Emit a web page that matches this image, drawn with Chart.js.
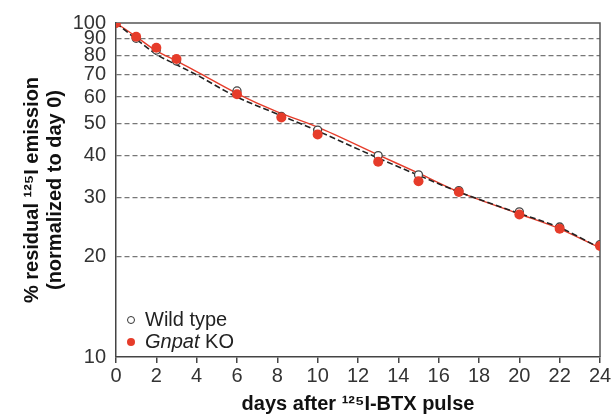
<!DOCTYPE html>
<html>
<head>
<meta charset="utf-8">
<script src="https://cdn.jsdelivr.net/npm/chart.js@4"></script>
<style>
  html, body { margin: 0; padding: 0; background: #fff; }
  #wrap { position: relative; width: 613px; height: 416px; }
  .leg { position: absolute; left: 127px; font: 20px "Liberation Sans", Arial, sans-serif; color: #222; white-space: nowrap; }
  .leg span.m { display: inline-block; width: 8px; height: 8px; border-radius: 50%; box-sizing: border-box; margin-right: 10px; vertical-align: 2px; }
</style>
</head>
<body>
<div id="wrap">
  <canvas id="chart" width="613" height="416"></canvas>
  <div class="leg" style="top:308px"><span class="m" style="border:1.5px solid #333;background:#fff"></span>Wild type</div>
  <div class="leg" style="top:330px"><span class="m" style="background:#e63c2a"></span><i>Gnpat</i> KO</div>
</div>
<script>
// measured points
const days = [0, 1, 2, 3, 6, 8.2, 10, 13, 15, 17, 20, 22, 24];
const wildType = [100, 90, 83, 77, 62.6, 52.5, 47.8, 40.1, 35.1, 31.5, 27.2, 24.5, 21.7];
const gnpatKO = [100, 91, 84.3, 78, 61.2, 52.1, 46.4, 38.4, 33.6, 31.2, 26.7, 24.2, 21.5];

// fitted decay curves
const fitDays = [0, 1, 2, 3, 4, 6, 8, 10, 13, 15, 17, 20, 22, 24];
const wildTypeFit = [100, 89.5, 80.6, 75, 69.9, 60, 53.4, 47.5, 39.4, 35, 31.2, 26.9, 24.4, 21.2];
const gnpatKOFit = [100, 91, 82.5, 77, 71.5, 61.5, 54.2, 48.8, 40.3, 35.5, 31.2, 26.8, 24.2, 21.2];

const yTicks = [10, 20, 30, 40, 50, 60, 70, 80, 90, 100];

const red = '#e63c2a';
const font = '"Liberation Sans", Arial, sans-serif';

function pts(xs, ys) {
    return xs.map((x, i) => ({ x: x, y: ys[i] }));
}

// box around plot (top + right)
const frame = {
    id: 'frame',
    beforeDatasetsDraw(chart) {
        const a = chart.chartArea;
        const ctx = chart.ctx;
        ctx.save();
        ctx.strokeStyle = '#555';
        ctx.lineWidth = 1.5;
        ctx.beginPath();
        ctx.moveTo(a.left, a.top);
        ctx.lineTo(a.right, a.top);
        ctx.lineTo(a.right, a.bottom);
        ctx.stroke();
        ctx.restore();
    }
};

new Chart(document.getElementById('chart'), {
    type: 'scatter',
    data: {
        datasets: [
            {
                label: 'Gnpat KO',
                data: pts(days, gnpatKO),
                backgroundColor: red,
                borderColor: red,
                pointRadius: 5,
                borderWidth: 0,
                order: 0
            },
            {
                label: 'Wild type',
                data: pts(days, wildType),
                backgroundColor: '#fff',
                borderColor: '#444',
                pointRadius: 4,
                borderWidth: 1.3,
                order: 1
            },
            {
                type: 'line',
                label: 'KO fit',
                data: pts(fitDays, gnpatKOFit),
                borderColor: red,
                borderWidth: 1.4,
                pointRadius: 0,
                cubicInterpolationMode: 'monotone',
                order: 3
            },
            {
                type: 'line',
                label: 'WT fit',
                data: pts(fitDays, wildTypeFit),
                borderColor: '#222',
                borderWidth: 1.6,
                borderDash: [6, 3],
                pointRadius: 0,
                cubicInterpolationMode: 'monotone',
                order: 2
            }
        ]
    },
    options: {
        responsive: false,
        animation: false,
        layout: { padding: { left: 0, right: 13, top: 23, bottom: 0 } },
        plugins: {
            legend: { display: false },
            tooltip: { enabled: false }
        },
        scales: {
            x: {
                type: 'linear',
                min: 0,
                max: 24,
                ticks: { stepSize: 2, color: '#333', font: { family: font, size: 20 }, padding: 1 },
                grid: { drawOnChartArea: false, tickLength: 6, color: '#444', lineWidth: 1.5 },
                border: { color: '#444', width: 1.5 },
                title: {
                    display: true,
                    text: 'days after \u00b9\u00b2\u2075I-BTX pulse',
                    color: '#111',
                    font: { family: font, size: 20, weight: 'bold', lineHeight: 1.15 },
                    padding: { top: 0, bottom: 0 }
                },
                afterFit(scale) { scale.height = 59; }
            },
            y: {
                type: 'logarithmic',
                min: 10,
                max: 100,
                afterBuildTicks(scale) {
                    scale.ticks = yTicks.map(v => ({ value: v }));
                },
                ticks: {
                    color: '#333',
                    font: { family: font, size: 20 },
                    padding: 10,
                    callback: v => String(v)
                },
                grid: {
                    drawTicks: false,
                    color: ctx => (ctx.tick && (ctx.tick.value === 10 || ctx.tick.value === 100)) ? 'rgba(0,0,0,0)' : '#777',
                    lineWidth: 1.2
                },
                border: { color: '#444', width: 1.5, dash: [5, 3] },
                title: {
                    display: true,
                    text: ['% residual \u00b9\u00b2\u2075I emission', '(normalized to day 0)'],
                    color: '#111',
                    font: { family: font, size: 20, weight: 'bold', lineHeight: 1.15 },
                    padding: { top: 21, bottom: 0 }
                },
                afterFit(scale) { scale.width = 116; }
            }
        }
    },
    plugins: [frame]
});
</script>
</body>
</html>
